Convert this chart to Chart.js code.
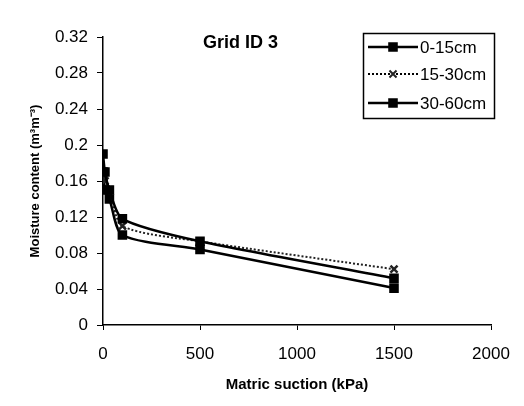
<!DOCTYPE html>
<html>
<head>
<meta charset="utf-8">
<script src="https://cdn.jsdelivr.net/npm/chart.js@4/dist/chart.umd.min.js"></script>
<style>
html,body{margin:0;padding:0;background:#fff;}
#wrap{width:524px;height:406px;position:relative;}
</style>
</head>
<body>
<div id="wrap"><canvas id="c" width="524" height="406"></canvas></div>
<script>
const suction = [0, 10, 33, 100, 500, 1500];
const series0_15 = [0.19, 0.17, 0.15, 0.118, 0.093, 0.052];
const series15_30 = [0.17, 0.16, 0.15, 0.11, 0.093, 0.062];
const series30_60 = [0.17, 0.15, 0.14, 0.10, 0.084, 0.041];
const seriesNames = ['0-15cm', '15-30cm', '30-60cm'];
const yTicks = [0, 0.04, 0.08, 0.12, 0.16, 0.2, 0.24, 0.28, 0.32];
const xTicks = [0, 500, 1000, 1500, 2000];
const chartTitle = 'Grid ID 3';
const FONT = '"Liberation Sans", Arial, sans-serif';

function pts(vals){ return suction.map((x,i)=>({x:x, y:vals[i]})); }

const legendPlugin = {
  id:'boxLegend',
  afterDraw(chart){
    const ctx = chart.ctx;
    ctx.save();
    ctx.fillStyle = '#000';
    ctx.font = 'bold 18px ' + FONT;
    ctx.textAlign = 'left';
    ctx.textBaseline = 'middle';
    ctx.fillText(chartTitle, 203, 43);
    const bx = 363.5, by = 33.5, bw = 131, bh = 85;
    ctx.strokeStyle = '#000';
    ctx.lineWidth = 1.5;
    ctx.strokeRect(bx, by, bw, bh);
    ctx.font = '17px ' + FONT;
    const rows = [47, 74, 103];
    chart.data.datasets.forEach((ds, i) => {
      const yy = rows[i];
      ctx.strokeStyle = '#000';
      ctx.lineWidth = ds.borderWidth;
      ctx.setLineDash(ds.borderDash || []);
      ctx.beginPath(); ctx.moveTo(368, yy); ctx.lineTo(418, yy); ctx.stroke();
      ctx.setLineDash([]);
      ctx.fillStyle = ds.pointBackgroundColor;
      ctx.strokeStyle = ds.pointBorderColor;
      Chart.helpers.drawPoint(ctx, {
        pointStyle: ds.pointStyle, radius: ds.pointRadius, borderWidth: ds.pointBorderWidth || 1, rotation: 0
      }, 393, yy);
      ctx.fillStyle = '#000';
      ctx.fillText(ds.label, 420, yy + 1);
    });
    ctx.restore();
  }
};

new Chart(document.getElementById('c'), {
  type: 'line',
  data: {
    datasets: [
      {label: seriesNames[0], data: pts(series0_15), borderColor:'#000', backgroundColor:'#000',
       borderWidth:2.5, pointStyle:'rect', pointRadius:5, pointBackgroundColor:'#000', pointBorderColor:'#000',
       tension:0.25},
      {label: seriesNames[1], data: pts(series15_30), borderColor:'#222', backgroundColor:'#fff',
       borderWidth:2, borderDash:[2,2], pointStyle:'crossRot', pointRadius:5, pointBorderWidth:2.5,
       pointBackgroundColor:'#fff', pointBorderColor:'#222', tension:0.25},
      {label: seriesNames[2], data: pts(series30_60), borderColor:'#000', backgroundColor:'#000',
       borderWidth:2.5, pointStyle:'rect', pointRadius:5, pointBackgroundColor:'#000', pointBorderColor:'#000',
       tension:0.25}
    ]
  },
  options: {
    responsive:false,
    animation:false,
    layout:{padding:{left:28, right:33, top:37, bottom:12}},
    plugins:{legend:{display:false}, title:{display:false}, tooltip:{enabled:false}},
    scales:{
      x:{
        type:'linear', min:0, max:2000,
        afterBuildTicks(s){ s.ticks = xTicks.map(v=>({value:v})); },
        afterFit(s){ s.height = 69; },
        grid:{drawOnChartArea:false, drawTicks:true, tickLength:5, color:'#000', lineWidth:1},
        border:{color:'#000', width:1.5},
        ticks:{color:'#000', font:{size:17, family:FONT}, padding:14, maxRotation:0,
          callback:(v)=>String(v)},
        title:{display:true, text:'Matric suction (kPa)', color:'#000',
          font:{size:15, weight:'bold', family:FONT}, padding:{top:0, bottom:0}}
      },
      y:{
        type:'linear', min:0, max:0.32,
        afterBuildTicks(s){ s.ticks = yTicks.map(v=>({value:v})); },
        afterFit(s){ s.width = 75; },
        grid:{drawOnChartArea:false, drawTicks:true, tickLength:6, color:'#000', lineWidth:1},
        border:{color:'#000', width:1.5},
        ticks:{color:'#000', font:{size:17, family:FONT}, padding:9,
          callback:(v)=>String(parseFloat(v.toFixed(2)))},
        title:{display:true, text:'Moisture content (m\u00B3m\u207B\u00B3)', color:'#000',
          font:{size:13, weight:'bold', family:FONT}, padding:{top:0,bottom:0}}
      }
    }
  },
  plugins:[legendPlugin]
});
</script>
</body>
</html>
